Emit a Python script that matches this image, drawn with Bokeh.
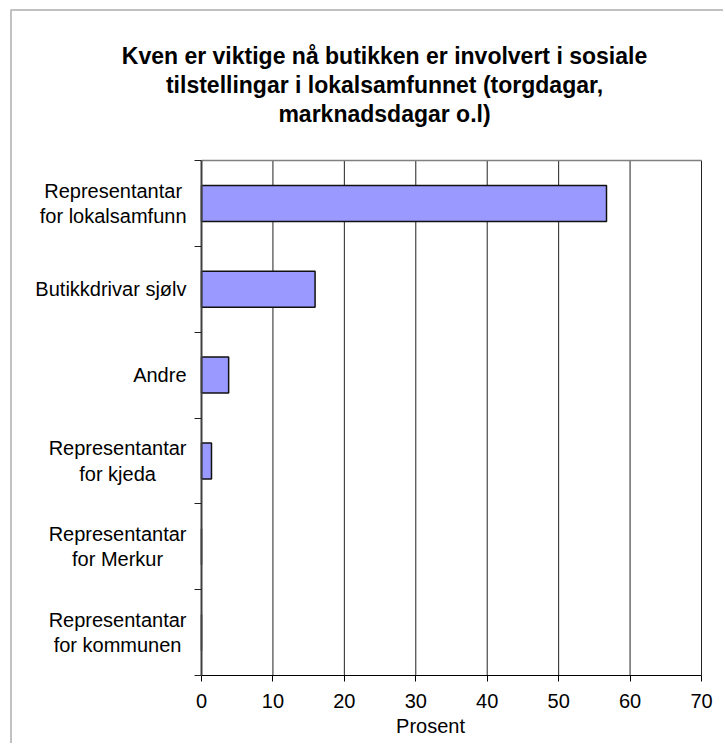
from bokeh.plotting import figure
from bokeh.models import Range1d, FixedTicker, Label, BoxAnnotation, ColumnDataSource
from bokeh.embed import file_html
from bokeh.resources import INLINE

# ---- data ----
categories = [
    "Representantar\nfor lokalsamfunn",
    "Butikkdrivar sjølv",
    "Andre",
    "Representantar\nfor kjeda",
    "Representantar\nfor Merkur",
    "Representantar\nfor kommunen",
]
values = [56.7, 15.9, 3.8, 1.4, 0.0, 0.0]
x_ticks = [0, 10, 20, 30, 40, 50, 60, 70]
title_lines = [
    "Kven er viktige nå butikken er involvert i sosiale",
    "tilstellingar i lokalsamfunnet (torgdagar,",
    "marknadsdagar o.l)",
]
x_label = "Prosent"

# ---- layout (pixels) ----
FONT = "Liberation Sans"
W, H = 723, 743
PX_L, PX_R, PX_T, PX_B = 201, 701, 160, 675   # plot area inside the canvas

n = len(categories)
xmin, xmax = x_ticks[0], x_ticks[-1]
ux = (xmax - xmin) / (PX_R - PX_L)          # data units per pixel (x)
uy = n / (PX_B - PX_T)                      # data units per pixel (y)
x_range = Range1d(xmin - PX_L * ux, xmax + (W - PX_R) * ux)
y_range = Range1d(n + (H - PX_B) * uy, 0 - PX_T * uy)   # flipped: first category on top

ypos = [i + 0.5 for i in range(n)]

p = figure(width=W, height=H, output_backend="svg", toolbar_location=None,
           title=None, x_range=x_range, y_range=y_range, min_border=0,
           background_fill_color="white", border_fill_color="white")
p.outline_line_color = None
p.xgrid.visible = False
p.ygrid.visible = False

# vertical grid lines and plot-area top edge
p.segment(x0=x_ticks[1:], x1=x_ticks[1:], y0=[0] * (len(x_ticks) - 1),
          y1=[n] * (len(x_ticks) - 1), line_color="#222222", line_width=1)
p.segment(x0=[xmin], x1=[xmax], y0=[0], y1=[0], line_color="#808080", line_width=1.5)

# bars
source = ColumnDataSource(dict(y=ypos, right=values))
p.hbar(y="y", right="right", left=0, height=0.42, source=source,
       fill_color="#9999FF", line_color="#111111", line_width=1.5)

# x axis
xa = p.xaxis[0]
xa.fixed_location = n
xa.bounds = (xmin, xmax)
xa.ticker = FixedTicker(ticks=x_ticks)
xa.axis_line_color = "black"
xa.axis_line_width = 1
xa.major_tick_in = 0
xa.major_tick_out = 6
xa.major_tick_line_color = "black"
xa.minor_tick_line_color = None
xa.major_label_text_font = FONT
xa.major_label_text_font_size = "20px"
xa.major_label_text_color = "black"
xa.major_label_standoff = 12

# y axis (ticks at category boundaries)
ya = p.yaxis[0]
ya.fixed_location = 0
ya.bounds = (0, n)
ya.ticker = FixedTicker(ticks=list(range(n + 1)))
ya.major_label_overrides = {i: "" for i in range(n + 1)}
ya.axis_line_color = "#404040"
ya.axis_line_width = 2
ya.major_tick_in = 0
ya.major_tick_out = 7
ya.major_tick_line_color = "#222222"
ya.minor_tick_line_color = None

# category labels
for cat, y in zip(categories, ypos):
    p.add_layout(Label(x=PX_L - 15, x_units="screen", y=y, y_units="data", text=cat,
                       anchor="center_right", text_align="center",
                       text_baseline="middle", text_font=FONT,
                       text_font_size="20px", text_color="black",
                       text_line_height=1.15))

# title (three centred lines)
for line, base in zip(title_lines, [55, 84, 113]):
    p.add_layout(Label(x=384, x_units="screen", y=H - base, y_units="screen", text=line,
                       text_align="center", text_baseline="alphabetic",
                       text_font=FONT, text_font_size="23px",
                       text_font_style="bold", text_color="black"))

# axis title
p.add_layout(Label(x=430, x_units="screen", y=H - 725, y_units="screen", text=x_label,
                   text_align="center", text_baseline="alphabetic",
                   text_font=FONT, text_font_size="20px", text_color="black"))

# outer frame of the chart (continues past the right and bottom edges)
p.add_layout(BoxAnnotation(left=10.5, right=W + 50, top=9.5, bottom=H + 50,
                           left_units="canvas", right_units="canvas",
                           top_units="canvas", bottom_units="canvas",
                           fill_color=None, line_color="#333333", line_width=2))

open("out.html", "w").write(file_html(p, INLINE))
